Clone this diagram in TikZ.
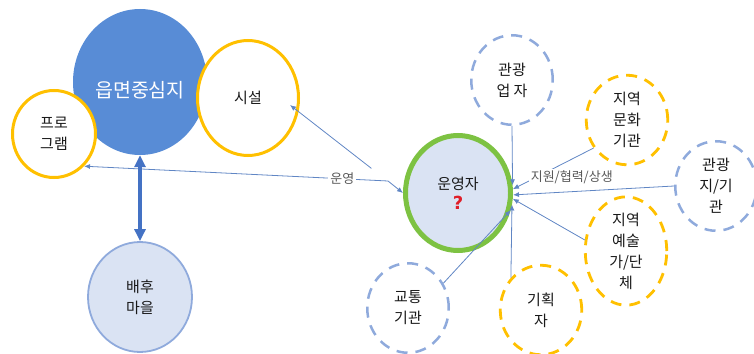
\documentclass[tikz,border=0pt]{standalone}
\usepackage{fontspec}
\setmainfont{Noto Sans CJK KR}
\newfontfamily\qfont{DejaVu Sans}
\usetikzlibrary{shapes.geometric,arrows.meta}
\definecolor{bigblue}{RGB}{88,140,214}
\definecolor{gold}{RGB}{255,192,0}
\definecolor{dblue}{RGB}{143,170,220}
\definecolor{lblue}{RGB}{218,227,243}
\definecolor{opgreen}{RGB}{125,194,66}
\definecolor{linkblue}{RGB}{96,134,196}
\definecolor{darrow}{RGB}{68,114,196}
\definecolor{txt}{RGB}{25,25,25}
\definecolor{lbltxt}{RGB}{89,89,89}
\definecolor{qred}{RGB}{224,30,40}
\begin{document}
\begin{tikzpicture}[x=1pt,y=-1pt,
  circ/.style={ellipse,inner sep=0pt,align=center,text=txt,font=\fontsize{15}{21}\selectfont},
  goldring/.style={circ,draw=gold,line width=3pt,fill=white},
  dashring/.style={circ,line width=2.5pt,dash pattern=on 11pt off 8pt,fill=white,
      minimum width=81.5pt,minimum height=89.5pt},
  dashblue/.style={dashring,draw=dblue},
  dashgold/.style={dashring,draw=gold,line width=2.8pt},
  link/.style={draw=linkblue,line width=0.8pt,-{Latex[length=6pt,width=5pt]}},
  lbl/.style={fill=white,text=lbltxt,font=\fontsize{13}{15}\selectfont,inner sep=2pt},
]
\useasboundingbox (0,0) rectangle (754,353);

% left cluster
\node[circ,fill=bigblue,minimum width=134pt,minimum height=146pt] (cen) at (140,82) {};
\node[text=white,font=\fontsize{19.5}{22}\selectfont] (centxt) at (140,90) {읍면중심지};
\node[goldring,minimum width=101pt,minimum height=115pt] (fac) at (248,98) {시설};
\node[goldring,minimum width=83pt,minimum height=87pt] (prog) at (54,134) {프로\\그램};
\node[circ,fill=lblue,draw=dblue,line width=1.8pt,minimum width=104pt,minimum height=110pt] (vil) at (140,297) {배후\\마을};

% operator
\node[circ,fill=lblue,draw=opgreen,line width=5pt,minimum width=105pt,minimum height=115pt] (op) at (458,193)
  {운영자\\[-1pt]{\qfont\bfseries\fontsize{18}{18}\selectfont\color{qred}?}};

% partners
\node[dashblue] (kwang) at (512,80) {관광\\업 자};
\node[dashgold] (cult) at (627,120) {지역\\문화\\기관};
\node[dashblue] (tour) at (716,186) {관광\\지/기\\관};
\node[dashgold] (art) at (626,251) {지역\\예술\\가/단\\체};
\node[dashgold] (plan) at (541,310) {기획\\자};
\node[dashblue] (traf) at (408,308) {교통\\기관};

% connectors
\draw[link,shorten <=40pt] (op.west) -- ([shift={(42,7)}]fac.center);
\draw[draw=linkblue,line width=0.8pt,{Latex[length=6pt,width=5pt]}-{Latex[length=6pt,width=5pt]}]
  (op.west) -- ++(-15,-12) -- node[lbl,pos=0.15] {운영} (prog.-47);
\draw[link] (kwang.south) -- (op.8);
\draw[link] (cult.220) -- node[lbl,pos=0.27,yshift=-18pt] {지원/협력/상생} (op.4);
\draw[link] (tour.west) -- (op.-2);
\draw[link] (art.165) -- (op.-6);
\draw[link] (plan.133) -- (op.-12);
\draw[link] (traf.35) -- (op.-18);

\draw[darrow,line width=3.5pt,{Triangle[length=12pt,width=11pt]}-{Triangle[length=12pt,width=11pt]}]
  (cen.south) -- (vil.north);
\end{tikzpicture}
\end{document}
